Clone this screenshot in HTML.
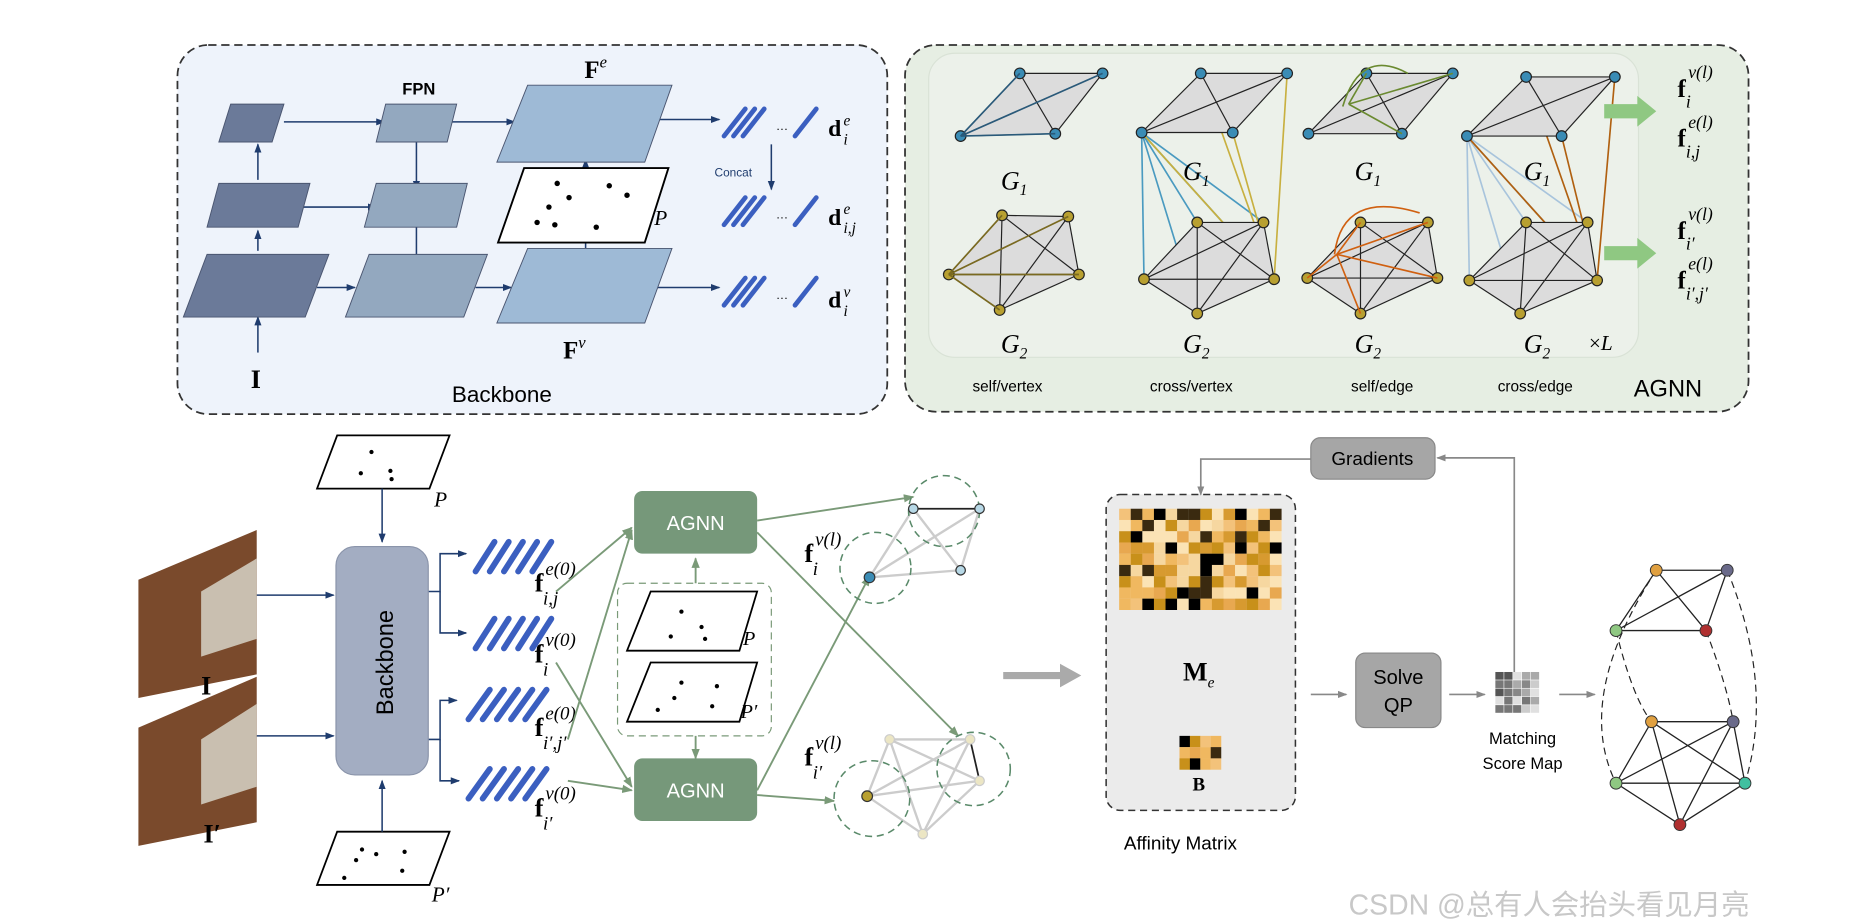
<!DOCTYPE html>
<html><head><meta charset="utf-8"><style>
html,body{margin:0;padding:0;background:#fff;}
svg{display:block}
text{font-family:"Liberation Sans",sans-serif;}
.m, .m text{font-family:"Liberation Serif",serif;}
</style></head><body>
<svg id="s" width="1855" height="924" viewBox="0 0 1568 781" xmlns="http://www.w3.org/2000/svg">
<defs>
<marker id="ab" markerWidth="8" markerHeight="8" refX="7" refY="4" orient="auto" markerUnits="userSpaceOnUse"><path d="M0,1 L8,4 L0,7z" fill="#1f3c6e"/></marker>
<marker id="ag" markerWidth="9" markerHeight="9" refX="8" refY="4.5" orient="auto" markerUnits="userSpaceOnUse"><path d="M0,1 L9,4.5 L0,8z" fill="#7a9a78"/></marker>
<marker id="agr" markerWidth="8" markerHeight="8" refX="7" refY="4" orient="auto" markerUnits="userSpaceOnUse"><path d="M0,1 L8,4 L0,7z" fill="#888"/></marker>
</defs>
<!-- Backbone panel -->
<rect x="150" y="38" width="600" height="312" rx="26" fill="#eef3fb" stroke="#333" stroke-width="1.5" stroke-dasharray="7,4"/>
<g stroke="#1f3c6e" stroke-width="1.3" fill="none" marker-end="url(#ab)">
<path d="M218,212 V195"/><path d="M218,152 V122"/>
<path d="M240,103 H325"/><path d="M250,175 H318"/><path d="M268,243 H300"/>
<path d="M352,120 V160"/><path d="M352,192 V240"/>
<path d="M380,103 H435"/><path d="M402,243 H432"/>
<path d="M548,101 H608"/><path d="M548,243 H608"/><path d="M495,160 V135"/><path d="M495,190 V238"/><path d="M652,122 V160"/>
</g>
<g stroke="#1f3c6e" stroke-width="1.3" fill="none"><path d="M218,298 V268" marker-end="url(#ab)"/></g>
<g stroke="#4a5570" stroke-width="0.8">
<polygon points="195,88 240,88 230,120 185,120" fill="#6b7a99"/>
<polygon points="185,155 262,155 252,192 175,192" fill="#6b7a99"/>
<polygon points="175,215 278,215 258,268 155,268" fill="#6b7a99"/>
<polygon points="326,88 386,88 378,120 318,120" fill="#93a8bf"/>
<polygon points="318,155 395,155 386,192 308,192" fill="#93a8bf"/>
<polygon points="312,215 412,215 392,268 292,268" fill="#93a8bf"/>
<polygon points="446,72 568,72 545,137 420,137" fill="#9ebad6"/>
<polygon points="446,210 568,210 545,273 420,273" fill="#9ebad6"/>
</g>
<polygon points="443,142 565,142 545,205 421,205" fill="#fff" stroke="#000" stroke-width="1.6"/>
<g fill="#000"><circle cx="471" cy="155" r="2.3"/><circle cx="515" cy="157" r="2.3"/><circle cx="481" cy="167" r="2.3"/><circle cx="530" cy="165" r="2.3"/><circle cx="464" cy="175" r="2.3"/><circle cx="454" cy="188" r="2.3"/><circle cx="469" cy="190" r="2.3"/><circle cx="504" cy="192" r="2.3"/></g>
<text x="553" y="190" class="m" font-size="18" font-style="italic">P</text>
<text x="340" y="80" font-size="14" font-weight="bold">FPN</text>
<text x="494" y="66" class="m" font-size="21" font-weight="bold">F<tspan font-size="14" font-style="italic" font-weight="normal" dy="-9">e</tspan></text>
<text x="476" y="303" class="m" font-size="21" font-weight="bold">F<tspan font-size="14" font-style="italic" font-weight="normal" dy="-9">v</tspan></text>
<text x="212" y="328" class="m" font-size="22" font-weight="bold">I</text>
<text x="382" y="340" font-size="19">Backbone</text>
<text x="604" y="149" font-size="10" fill="#1f3c6e">Concat</text>
<g stroke="#3b5fc0" stroke-width="4" stroke-linecap="round">
<path d="M612,115 L630,92 M620,115 L638,92 M628,115 L646,92 M672,115 L690,92"/>
<path d="M612,190 L630,167 M620,190 L638,167 M628,190 L646,167 M672,190 L690,167"/>
<path d="M612,258 L630,235 M620,258 L638,235 M628,258 L646,235 M672,258 L690,235"/>
</g>
<text x="656" y="112" font-size="10">···</text><text x="656" y="187" font-size="10">···</text><text x="656" y="255" font-size="10">···</text>
<g class="m" font-size="20" font-weight="bold">
<text x="700" y="115">d</text><text x="700" y="190">d</text><text x="700" y="260">d</text>
</g>
<g class="m" font-size="13" font-style="italic">
<text x="713" y="106">e</text><text x="713" y="122">i</text>
<text x="713" y="181">e</text><text x="713" y="197">i,j</text>
<text x="713" y="251">v</text><text x="713" y="267">i</text>
</g>
<!-- AGNN panel -->
<rect x="765" y="38" width="713" height="310" rx="26" fill="#e6eee3" stroke="#333" stroke-width="1.5" stroke-dasharray="7,4"/>
<rect x="785" y="45" width="600" height="257" rx="22" fill="#ecf1ea" stroke="#d9e2d6"/>
<g id="graphs" stroke="#222" stroke-width="1"></g>
<g class="m" font-size="22" font-style="italic">
<text x="846" y="160">G<tspan font-size="13" dy="5">1</tspan></text><text x="1000" y="152">G<tspan font-size="13" dy="5">1</tspan></text><text x="1145" y="152">G<tspan font-size="13" dy="5">1</tspan></text><text x="1288" y="152">G<tspan font-size="13" dy="5">1</tspan></text>
<text x="846" y="298">G<tspan font-size="13" dy="5">2</tspan></text><text x="1000" y="298">G<tspan font-size="13" dy="5">2</tspan></text><text x="1145" y="298">G<tspan font-size="13" dy="5">2</tspan></text><text x="1288" y="298">G<tspan font-size="13" dy="5">2</tspan></text>
<text x="1343" y="296" font-size="18" font-style="normal">×<tspan font-style="italic">L</tspan></text>
</g>
<g font-size="13"><text x="822" y="331">self/vertex</text><text x="972" y="331">cross/vertex</text><text x="1142" y="331">self/edge</text><text x="1266" y="331">cross/edge</text></g>
<text x="1381" y="335" font-size="20">AGNN</text>
<g fill="#8fc882"><path d="M1356,88 h28 v-7 l16,13 l-16,13 v-7 h-28z"/><path d="M1356,208 h28 v-7 l16,13 l-16,13 v-7 h-28z"/></g>
<g class="m" font-size="21" font-weight="bold">
<text x="1418" y="82">f</text><text x="1418" y="124">f</text><text x="1418" y="202">f</text><text x="1418" y="244">f</text>
</g>
<g class="m" font-size="15" font-style="italic">
<text x="1427" y="66">v(l)</text><text x="1425" y="91">i</text>
<text x="1427" y="108">e(l)</text><text x="1425" y="133">i,j</text>
<text x="1427" y="186">v(l)</text><text x="1425" y="211">i′</text>
<text x="1427" y="228">e(l)</text><text x="1425" y="253">i′,j′</text>
</g>
<!-- bottom left -->
<polygon points="285,368 380,368 363,413 268,413" fill="#fff" stroke="#000" stroke-width="1.5"/>
<g fill="#000"><circle cx="314" cy="382" r="1.8"/><circle cx="305" cy="400" r="1.8"/><circle cx="330" cy="398" r="1.8"/><circle cx="331" cy="405" r="1.8"/></g>
<text x="367" y="428" class="m" font-size="18" font-style="italic">P</text>
<polygon points="285,703 380,703 363,748 268,748" fill="#fff" stroke="#000" stroke-width="1.5"/>
<g fill="#000"><circle cx="306" cy="718" r="1.8"/><circle cx="318" cy="722" r="1.8"/><circle cx="342" cy="720" r="1.8"/><circle cx="301" cy="727" r="1.8"/><circle cx="291" cy="742" r="1.8"/><circle cx="340" cy="736" r="1.8"/></g>
<text x="365" y="762" class="m" font-size="18" font-style="italic">P′</text>
<g stroke="#1f3c6e" stroke-width="1.3" fill="none">
<path d="M323,413 V458" marker-end="url(#ab)"/><path d="M323,703 V660" marker-end="url(#ab)"/>
<path d="M200,503 H282" marker-end="url(#ab)"/><path d="M200,622 H282" marker-end="url(#ab)"/>
<path d="M362,500 H372 V468 H394" marker-end="url(#ab)"/><path d="M372,500 V535 H394" marker-end="url(#ab)"/>
<path d="M362,625 H372 V592 H386" marker-end="url(#ab)"/><path d="M372,625 V660 H388" marker-end="url(#ab)"/>
</g>
<polygon points="217,448 217,570 117,590 117,490" fill="#7a4a2c"/>
<polygon points="217,472 217,540 170,555 170,500" fill="#c9bfb0"/>
<polygon points="217,572 217,695 117,715 117,615" fill="#7a4a2c"/>
<polygon points="217,595 217,665 170,680 170,625" fill="#c9bfb0"/>
<text x="170" y="587" class="m" font-size="22" font-weight="bold">I</text>
<text x="172" y="712" class="m" font-size="22" font-weight="bold">I′</text>
<rect x="284" y="462" width="78" height="193" rx="16" fill="#a3adc2" stroke="#8a94aa"/>
<text transform="translate(332,560) rotate(-90)" text-anchor="middle" font-size="20">Backbone</text>
<g stroke="#3b5fc0" stroke-width="5" stroke-linecap="round">
<path d="M402,483 L418,458 M414,483 L430,458 M426,483 L442,458 M438,483 L454,458 M450,483 L466,458"/>
<path d="M402,548 L418,523 M414,548 L430,523 M426,548 L442,523 M438,548 L454,523 M450,548 L466,523"/>
<path d="M396,608 L414,583 M408,608 L426,583 M420,608 L438,583 M432,608 L450,583 M444,608 L462,583"/>
<path d="M396,675 L414,650 M408,675 L426,650 M420,675 L438,650 M432,675 L450,650 M444,675 L462,650"/>
</g>
<g class="m" font-size="22" font-weight="bold">
<text x="452" y="500">f</text><text x="452" y="560">f</text><text x="452" y="622">f</text><text x="452" y="690">f</text><text x="680" y="475">f</text><text x="680" y="647">f</text>
</g>
<g class="m" font-size="16" font-style="italic">
<text x="461" y="486">e(0)</text><text x="459" y="511">i,j</text>
<text x="461" y="546">v(0)</text><text x="459" y="571">i</text>
<text x="461" y="608">e(0)</text><text x="459" y="633">i′,j′</text>
<text x="461" y="676">v(0)</text><text x="459" y="701">i′</text>
<text x="689" y="461">v(l)</text><text x="687" y="486">i</text>
<text x="689" y="633">v(l)</text><text x="687" y="658">i′</text>
</g>
<rect x="522" y="493" width="130" height="129" rx="8" fill="#fff" stroke="#7a9a78" stroke-dasharray="6,4"/>
<polygon points="550,500 640,500 625,550 530,550" fill="#fff" stroke="#000" stroke-width="1.5"/>
<g fill="#000"><circle cx="576" cy="517" r="1.8"/><circle cx="593" cy="530" r="1.8"/><circle cx="567" cy="538" r="1.8"/><circle cx="596" cy="540" r="1.8"/></g>
<text x="628" y="545" class="m" font-size="17" font-style="italic">P</text>
<polygon points="550,560 640,560 625,610 530,610" fill="#fff" stroke="#000" stroke-width="1.5"/>
<g fill="#000"><circle cx="576" cy="577" r="1.8"/><circle cx="606" cy="580" r="1.8"/><circle cx="570" cy="590" r="1.8"/><circle cx="556" cy="600" r="1.8"/><circle cx="602" cy="597" r="1.8"/></g>
<text x="626" y="607" class="m" font-size="17" font-style="italic">P′</text>
<g stroke="#7a9a78" stroke-width="1.6" fill="none">
<path d="M588,493 V472" marker-end="url(#ag)"/><path d="M588,622 V641" marker-end="url(#ag)"/>
<path d="M470,500 L534,446" marker-end="url(#ag)"/><path d="M470,560 L534,665" marker-end="url(#ag)"/>
<path d="M480,625 L534,448" marker-end="url(#ag)"/><path d="M480,660 L534,668" marker-end="url(#ag)"/>
<path d="M640,440 L772,420" marker-end="url(#ag)"/><path d="M640,450 L810,622" marker-end="url(#ag)"/>
<path d="M640,668 L735,487" marker-end="url(#ag)"/><path d="M640,672 L705,677" marker-end="url(#ag)"/>
</g>
<rect x="536" y="415" width="104" height="53" rx="7" fill="#76987a"/>
<rect x="536" y="641" width="104" height="53" rx="7" fill="#76987a"/>
<text x="588" y="448" text-anchor="middle" font-size="17" fill="#fff">AGNN</text>
<text x="588" y="674" text-anchor="middle" font-size="17" fill="#fff">AGNN</text>
<!-- small graphs -->
<g stroke="#ccc" stroke-width="2" fill="none">
<path d="M772,430 L812,482 L828,430 L735,488 L812,482 M772,430 L735,488 M828,430 L812,482"/>
<path d="M752,625 L828,660 L780,705 L752,625 L820,625 L733,673 L828,660 M733,673 L780,705 M752,625 L733,673 M820,625 L780,705"/>
</g>
<path d="M772,430 H828" stroke="#222" stroke-width="1.5"/><path d="M820,625 L828,660" stroke="#222" stroke-width="1.5"/>
<g stroke="#5a8a6a" stroke-width="1.3" fill="none" stroke-dasharray="6,4">
<circle cx="798" cy="432" r="30"/><circle cx="740" cy="480" r="30"/><circle cx="823" cy="650" r="31"/><circle cx="737" cy="675" r="32"/>
</g>
<g stroke="#333" stroke-width="1"><circle cx="772" cy="430" r="4" fill="#b7d8e6"/><circle cx="828" cy="430" r="4" fill="#b7d8e6"/><circle cx="812" cy="482" r="4" fill="#b7d8e6"/><circle cx="735" cy="488" r="4.5" fill="#3b8cb5"/>
<circle cx="752" cy="625" r="4" fill="#ece6c4" stroke="#ccc"/><circle cx="820" cy="625" r="4" fill="#ece6c4" stroke="#ccc"/><circle cx="828" cy="660" r="4" fill="#ece6c4" stroke="#ccc"/><circle cx="780" cy="705" r="4" fill="#ece6c4" stroke="#ccc"/><circle cx="733" cy="673" r="4.5" fill="#b8a030"/></g>
<!-- right side -->
<path d="M848,568 h48 v-7 l18,10 l-18,10 v-7 h-48z" fill="#aaa"/>
<rect x="935" y="418" width="160" height="267" rx="12" fill="#ebebeb" stroke="#333" stroke-dasharray="6,4" stroke-width="1.3"/>
<g id="me"></g><g id="bm"></g>
<text x="1000" y="575" class="m" font-size="22" font-weight="bold">M<tspan font-size="13" font-style="italic" font-weight="normal" dy="6">e</tspan></text>
<text x="1008" y="668" class="m" font-size="16" font-weight="bold">B</text>
<text x="950" y="718" font-size="16">Affinity Matrix</text>
<g stroke="#888" stroke-width="1.4" fill="none">
<path d="M1108,388 H1015 V418" marker-end="url(#agr)"/><path d="M1280,570 V387 H1215" marker-end="url(#agr)"/>
<path d="M1108,587 H1138" marker-end="url(#agr)"/><path d="M1225,587 H1255" marker-end="url(#agr)"/><path d="M1318,587 H1348" marker-end="url(#agr)"/>
</g>
<rect x="1108" y="370" width="105" height="35" rx="8" fill="#a6a6a6" stroke="#888"/>
<text x="1160" y="393" text-anchor="middle" font-size="16">Gradients</text>
<rect x="1146" y="552" width="72" height="63" rx="8" fill="#a6a6a6" stroke="#888"/>
<text x="1182" y="578" text-anchor="middle" font-size="17">Solve</text><text x="1182" y="602" text-anchor="middle" font-size="17">QP</text>
<g id="sm"></g>
<text x="1287" y="629" text-anchor="middle" font-size="14">Matching</text>
<text x="1287" y="650" text-anchor="middle" font-size="14">Score Map</text>
<g stroke="#222" stroke-width="1.1" fill="none">
<path d="M1400,482 H1460 L1366,533 H1442 M1400,482 L1366,533 M1400,482 L1442,533 M1460,482 L1442,533"/>
<path d="M1396,610 H1465 M1366,662 H1475 M1396,610 L1366,662 L1420,697 L1475,662 L1465,610 M1396,610 L1475,662 M1465,610 L1366,662 M1396,610 L1420,697 M1465,610 L1420,697"/>
</g>
<g stroke="#222" stroke-width="1" fill="none" stroke-dasharray="6,4">
<path d="M1400,482 Q1330,590 1366,662 M1460,482 Q1500,580 1475,662 M1366,533 Q1380,590 1396,610 M1442,533 Q1460,580 1465,610"/>
</g>
<g stroke="#333" stroke-width="0.8"><circle cx="1400" cy="482" r="5" fill="#e0a040"/><circle cx="1460" cy="482" r="5" fill="#6a6a8a"/><circle cx="1366" cy="533" r="5" fill="#8fc882"/><circle cx="1442" cy="533" r="5" fill="#b03030"/>
<circle cx="1396" cy="610" r="5" fill="#e0a040"/><circle cx="1465" cy="610" r="5" fill="#6a6a8a"/><circle cx="1366" cy="662" r="5" fill="#8fc882"/><circle cx="1475" cy="662" r="5" fill="#40c0a0"/><circle cx="1420" cy="697" r="5" fill="#b03030"/></g>
<text x="1140" y="773" font-size="24" fill="#c8c8c8" font-family="'Liberation Sans','Noto Sans CJK SC',sans-serif">CSDN @总有人会抬头看见月亮</text>
</svg>
<script>
var NS="http://www.w3.org/2000/svg";
function el(p,t,a){var e=document.createElementNS(NS,t);for(var k in a)e.setAttribute(k,a[k]);p.appendChild(e);return e;}
var seed=7;function r(){seed=(seed*16807)%2147483647;return seed/2147483647;}
var pal=["#f3c27a","#e8a850","#c8901a","#f6d7a0","#3a2a10","#000","#f0b860","#d79a30","#fbe3b5"];
var me=document.getElementById("me");
for(var i=0;i<14;i++)for(var j=0;j<9;j++)el(me,"rect",{x:946+i*9.8,y:430+j*9.5,width:9.9,height:9.6,fill:pal[Math.floor(r()*pal.length)]});
var bm=document.getElementById("bm");
for(var i=0;i<4;i++)for(var j=0;j<3;j++)el(bm,"rect",{x:997+i*8.8,y:622+j*9.5,width:8.9,height:9.6,fill:pal[Math.floor(r()*pal.length)]});
var sm=document.getElementById("sm");var gp=["#555","#888","#aaa","#ccc","#e0e0e0","#777"];
for(var i=0;i<5;i++)for(var j=0;j<5;j++)el(sm,"rect",{x:1264+i*7.5,y:568+j*7,width:7,height:6.5,fill:gp[Math.floor(r()*gp.length)]});
var g=document.getElementById("graphs");
function graph(P,edges,fill,col,quad){
 if(quad)el(g,"polygon",{points:quad.map(function(k){return P[k].join(",")}).join(" "),fill:"#dcdcdc",stroke:"none"});
 edges.forEach(function(e){el(g,"line",{x1:P[e[0]][0],y1:P[e[0]][1],x2:P[e[1]][0],y2:P[e[1]][1],stroke:"#222","stroke-width":1});});
 P.forEach(function(p){el(g,"circle",{cx:p[0],cy:p[1],r:4.5,fill:col,stroke:"#222"});});
}
function full(n){var a=[];for(var i=0;i<n;i++)for(var j=i+1;j<n;j++)a.push([i,j]);return a;}
function cl(a,b,c){el(g,"line",{x1:a[0],y1:a[1],x2:b[0],y2:b[1],stroke:c,"stroke-width":1.4});}
var xs=[[812,115,862,62,932,62,892,113],[965,112,1015,62,1088,62,1042,112],[1106,113,1155,62,1228,62,1185,113],[1240,115,1290,65,1365,65,1320,115]];
var ys=[[847,182,903,183,912,232,845,262,802,232],[1012,188,1068,188,1077,236,1012,265,967,236],[1150,188,1207,188,1215,235,1150,265,1105,235],[1290,188,1342,188,1350,237,1285,265,1242,237]];
for(var k=0;k<4;k++){
 var a=xs[k],P1=[[a[0],a[1]],[a[2],a[3]],[a[4],a[5]],[a[6],a[7]]];
 var b=ys[k],P2=[[b[0],b[1]],[b[2],b[3]],[b[4],b[5]],[b[6],b[7]],[b[8],b[9]]];
 if(k==1){for(var t=0;t<5;t++){cl(P1[0],P2[t],"#4a9ac0");cl(P2[2],P1[t%4],"#c8b040");}}
 if(k==3){for(var t=0;t<5;t++){cl(P1[0],P2[t],"#a8c4dc");cl(P2[2],P1[t%4],"#b06010");}}
 graph(P1,full(4),"","#3a8cb5",[0,1,2,3]);
 graph(P2,full(5),"","#b8a030",[0,1,2,3,4]);
 if(k==0){cl(P1[0],P1[1],"#2a5a7a");cl(P1[0],P1[2],"#2a5a7a");cl(P1[0],P1[3],"#2a5a7a");cl(P2[4],P2[0],"#7a6a20");cl(P2[4],P2[1],"#7a6a20");cl(P2[4],P2[2],"#7a6a20");cl(P2[4],P2[3],"#7a6a20");}
 if(k==2){for(var t=1;t<4;t++)cl([1140,88],P1[t],"#6a8a30");el(g,"path",{d:"M1135,90 Q1150,40 1190,62",stroke:"#6a8a30",fill:"none","stroke-width":1.4});
  for(var t=0;t<5;t++)cl([1130,215],P2[t],"#d06010");el(g,"path",{d:"M1128,215 Q1135,160 1200,180",stroke:"#d06010",fill:"none","stroke-width":1.4});}
}
</script>
</body></html>
